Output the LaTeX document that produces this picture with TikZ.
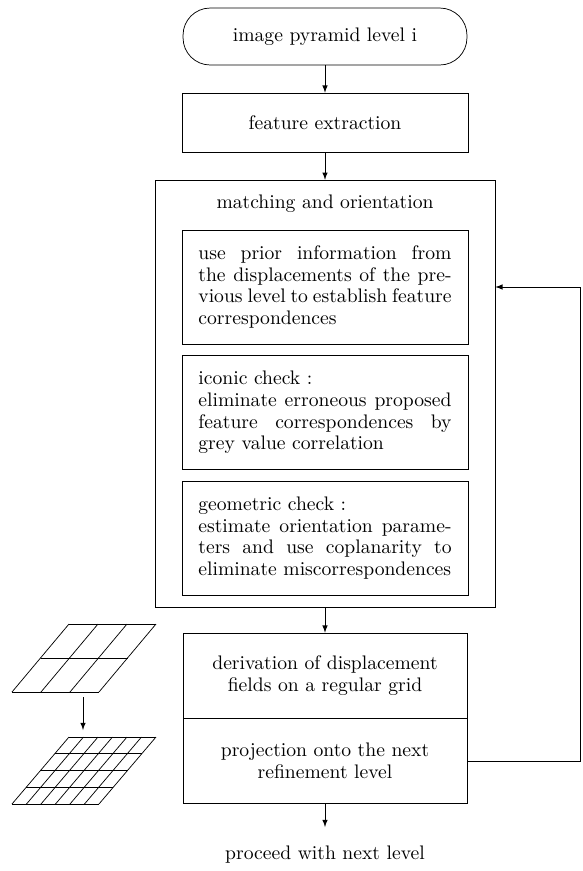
\documentclass[tikz,border=0pt]{standalone}
\usetikzlibrary{arrows}
\tikzset{
	procbox/.style={draw, minimum width=158pt, minimum height=32.6pt, align=center},
	textbox/.style={draw, text width=140pt, inner xsep=9pt, minimum height=63pt, align=justify},
	stepbox/.style={draw, minimum width=157pt, minimum height=47pt, align=center},
}
\begin{document}
\begin{tikzpicture}[x=0.553pt, y=-0.553pt, every node/.style={font=\fontsize{10.85pt}{12pt}\selectfont}]
		\useasboundingbox (0,0) rectangle (583,871);

		\node[draw, rounded corners=15pt, minimum width=157pt, minimum height=31.5pt] (level) at (325,36.5) {image pyramid level i};
		\node[procbox] (feat) at (325,122.5) {feature extraction};
		\node[draw, minimum width=188pt, minimum height=236pt] (match) at (325,393.5) {};
		\node (title) at (325,204) {matching and orientation};
		\node[textbox] (prior) at (325,287) {use prior information from\linebreak the displacements of the pre-\linebreak vious level to establish feature\linebreak correspondences};
		\node[textbox] (iconic) at (325,412.5) {iconic check :\\ eliminate erroneous proposed\linebreak feature correspondences by\linebreak grey value correlation};
		\node[textbox] (geom) at (325,538) {geometric check :\\ estimate orientation parame-\linebreak ters and use coplanarity to\linebreak eliminate miscorrespondences};
		\node[stepbox] (deriv) at (325,675.5) {derivation of displacement\\ fields on a regular grid};
		\node[stepbox] (proj) at (325,761) {projection onto the next\\ refinement level};
		\node[inner ysep=10pt, anchor=north] (next) at (325,827) {proceed with next level};

		\draw[-latex] (level) -- (feat);
		\draw[-latex] (feat) -- (match);
		\draw[-latex] (match) -- (deriv);
		\draw[-latex] (proj) -- (next);

		\coordinate (back) at (580,287);
		\draw[-latex] (proj.east) -| (back) -- (back -| match.east);

		% coarse grid
		\foreach \i in {0,...,3}
			\draw (12+29*\i,692) -- ++(57,-68);
		\foreach \j in {0,...,2}
			\draw (12+28.5*\j,692-34*\j) -- ++(87,0);

		% fine grid
		\foreach \i in {0,...,6}
			\draw (12+14.5*\i,804) -- ++(57,-67);
		\foreach \j in {0,...,4}
			\draw (12+14.25*\j,804-16.75*\j) -- ++(87,0);

		\coordinate (coarse) at (83,697);
		\coordinate (fine) at (83,730);
		\draw[-latex] (coarse) -- (fine);
	\end{tikzpicture}
\end{document}
